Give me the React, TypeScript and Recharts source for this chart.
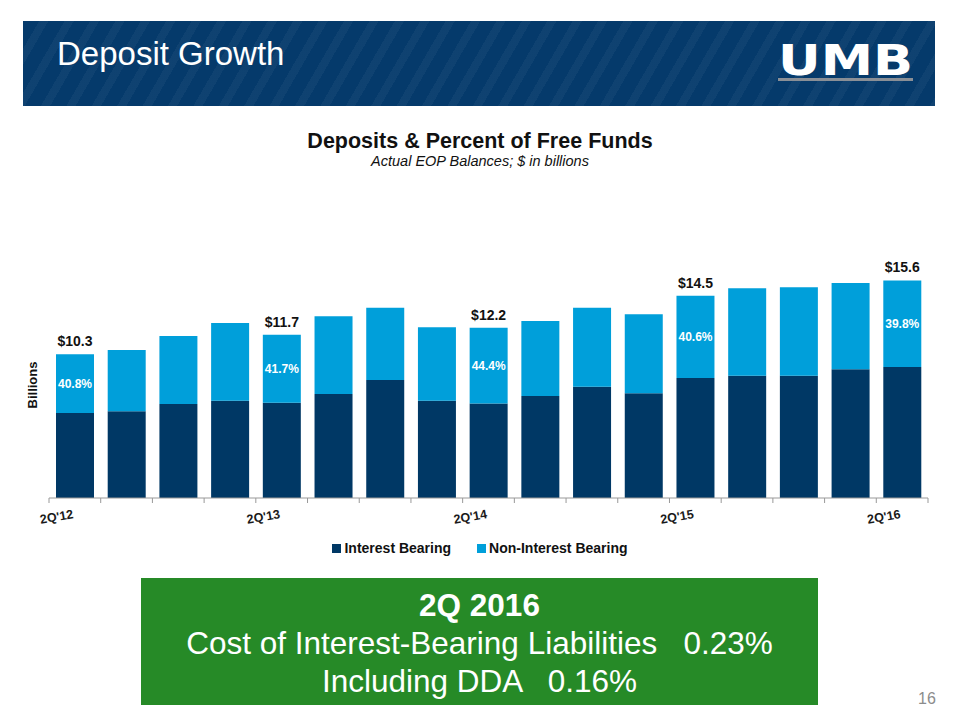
import React from "react";
import { BarChart, Bar, XAxis, YAxis, LabelList } from "recharts";

const quarters = [
  "2Q'12", "3Q'12", "4Q'12", "1Q'13", "2Q'13", "3Q'13", "4Q'13", "1Q'14", "2Q'14",
  "3Q'14", "4Q'14", "1Q'15", "2Q'15", "3Q'15", "4Q'15", "1Q'16", "2Q'16",
];
const interestBearing = [6.1, 6.21, 6.74, 6.98, 6.82, 7.46, 8.46, 6.98, 6.78, 7.31, 7.98, 7.51, 8.61, 8.77, 8.77, 9.23, 9.39];
const nonInterestBearing = [4.2, 4.4, 4.87, 5.56, 4.88, 5.57, 5.18, 5.26, 5.42, 5.38, 5.66, 5.66, 5.89, 6.26, 6.33, 6.18, 6.21];
const totalLabels = ["$10.3", "", "", "", "$11.7", "", "", "", "$12.2", "", "", "", "$14.5", "", "", "", "$15.6"];
const freeFundsLabels = ["40.8%", "", "", "", "41.7%", "", "", "", "44.4%", "", "", "", "40.6%", "", "", "", "39.8%"];
const shownTicks = ["2Q'12", "2Q'13", "2Q'14", "2Q'15", "2Q'16"];
const seriesNames = ["Interest Bearing", "Non-Interest Bearing"];

const data = quarters.map((q, i) => ({
  q,
  ib: interestBearing[i],
  nib: nonInterestBearing[i],
  total: totalLabels[i],
  pct: freeFundsLabels[i],
}));

const DARK = "#003865";
const LIGHT = "#009FDA";
const FONT = "'Liberation Sans', Arial, Helvetica, sans-serif";

const CHART_W = 960;
const CHART_H = 560;
const M_TOP = 219;
const M_LEFT = 49;
const M_RIGHT = 32;
const AXIS_H = 30;
const M_BOTTOM = 32;
const BAND = (CHART_W - M_LEFT - M_RIGHT) / quarters.length;

const XTick = (props: any) => {
  const { x, y, payload, index } = props;
  const cx = Number(x);
  const cy = Number(y);
  const half = BAND / 2;
  const label = shownTicks.includes(payload.value) ? payload.value : "";
  return (
    <g>
      <line x1={cx - half} y1={cy} x2={cx - half} y2={cy + 5} stroke="#999" strokeWidth={1} />
      {index === quarters.length - 1 && (
        <line x1={cx + half} y1={cy} x2={cx + half} y2={cy + 5} stroke="#999" strokeWidth={1} />
      )}
      {label && (
        <text
          x={cx - 1}
          y={cy + 20}
          textAnchor="end"
          transform={`rotate(-10, ${cx - 1}, ${cy + 20})`}
          fontFamily={FONT}
          fontWeight="bold"
          fontSize={12.5}
          fill="#1a1a1a"
        >
          {label}
        </text>
      )}
    </g>
  );
};

const PctLabel = (props: any) => {
  const { x, y, width, height, value } = props;
  if (!value) return null;
  return (
    <text
      x={Number(x) + Number(width) / 2}
      y={Number(y) + Number(height) / 2 + 4}
      textAnchor="middle"
      fill="#ffffff"
      fontFamily={FONT}
      fontWeight="bold"
      fontSize={12}
    >
      {value}
    </text>
  );
};

const TotalLabel = (props: any) => {
  const { x, y, width, value } = props;
  if (!value) return null;
  return (
    <text
      x={Number(x) + Number(width) / 2}
      y={Number(y) - 8}
      textAnchor="middle"
      fill="#111"
      fontFamily={FONT}
      fontWeight="bold"
      fontSize={14}
    >
      {value}
    </text>
  );
};

export default function App() {
  return (
    <div
      style={{
        position: "absolute",
        left: 0,
        top: 0,
        width: 960,
        height: 720,
        background: "#fff",
        fontFamily: FONT,
        overflow: "hidden",
      }}
    >
      {/* Header band */}
      <div
        style={{
          position: "absolute",
          left: 23,
          top: 21,
          width: 912,
          height: 85,
          background: "#053a6b",
          backgroundImage:
            "repeating-linear-gradient(120deg, rgba(255,255,255,0) 0px, rgba(255,255,255,0) 14px, rgba(255,255,255,0.04) 14px, rgba(255,255,255,0.04) 22px)",
        }}
      />
      <div
        style={{
          position: "absolute",
          left: 57,
          top: 35,
          color: "#fff",
          fontSize: 33,
          lineHeight: "38px",
          whiteSpace: "nowrap",
        }}
      >
        Deposit Growth
      </div>
      <svg style={{ position: "absolute", left: 0, top: 0 }} width={960} height={720}>
        <text
          x={778}
          y={75}
          textLength={135}
          lengthAdjust="spacingAndGlyphs"
          fontFamily="'DejaVu Sans', sans-serif"
          fontWeight="bold"
          fontSize={43}
          fill="#ffffff"
        >
          UMB
        </text>
        <rect x={778} y={78} width={135} height={3} fill="#8a8f96" />
        <text
          x={37}
          y={385}
          transform="rotate(-90, 37, 385)"
          textAnchor="middle"
          fontFamily={FONT}
          fontWeight="bold"
          fontSize={13}
          fill="#111"
        >
          Billions
        </text>
      </svg>

      {/* Chart titles */}
      <div
        style={{
          position: "absolute",
          left: 0,
          top: 129,
          width: 960,
          textAlign: "center",
          fontWeight: "bold",
          fontSize: 21.5,
          color: "#111",
        }}
      >
        Deposits &amp; Percent of Free Funds
      </div>
      <div
        style={{
          position: "absolute",
          left: 0,
          top: 153,
          width: 960,
          textAlign: "center",
          fontStyle: "italic",
          fontSize: 14.5,
          color: "#111",
        }}
      >
        Actual EOP Balances; $ in billions
      </div>

      {/* Chart */}
      <div style={{ position: "absolute", left: 0, top: 0 }}>
        <BarChart
          width={CHART_W}
          height={CHART_H}
          data={data}
          margin={{ top: M_TOP, left: M_LEFT, right: M_RIGHT, bottom: M_BOTTOM }}
          barSize={38}
        >
          <YAxis hide domain={[0, 20]} type="number" />
          <XAxis
            dataKey="q"
            height={AXIS_H}
            interval={0}
            tickLine={false}
            tickSize={0}
            tickMargin={0}
            axisLine={{ stroke: "#999", strokeWidth: 1 }}
            tick={<XTick />}
          />
          <Bar dataKey="ib" name={seriesNames[0]} stackId="a" fill={DARK} isAnimationActive={false} />
          <Bar dataKey="nib" name={seriesNames[1]} stackId="a" fill={LIGHT} isAnimationActive={false}>
            <LabelList dataKey="pct" content={<PctLabel />} />
            <LabelList dataKey="total" content={<TotalLabel />} />
          </Bar>
        </BarChart>
      </div>

      {/* Legend */}
      <div
        style={{
          position: "absolute",
          left: 0,
          top: 540,
          width: 960,
          display: "flex",
          justifyContent: "center",
          gap: 26,
          fontWeight: "bold",
          fontSize: 14,
          color: "#111",
        }}
      >
        {[DARK, LIGHT].map((c, i) => (
          <div key={i} style={{ display: "flex", alignItems: "center" }}>
            <span style={{ display: "inline-block", width: 9, height: 9, background: c, marginRight: 3 }} />
            <span>{seriesNames[i]}</span>
          </div>
        ))}
      </div>

      {/* Green box */}
      <div
        style={{
          position: "absolute",
          left: 141,
          top: 578,
          width: 677,
          height: 127,
          background: "#268a27",
          color: "#fff",
          textAlign: "center",
          fontSize: 31.5,
          lineHeight: "38px",
          paddingTop: 8,
          boxSizing: "border-box",
        }}
      >
        <div style={{ fontWeight: "bold" }}>2Q 2016</div>
        <div style={{ whiteSpace: "pre" }}>{"Cost of Interest-Bearing Liabilities   0.23%"}</div>
        <div style={{ whiteSpace: "pre" }}>{"Including DDA   0.16%"}</div>
      </div>

      <div style={{ position: "absolute", left: 918, top: 690, fontSize: 16, color: "#8c8c8c" }}>16</div>
    </div>
  );
}
